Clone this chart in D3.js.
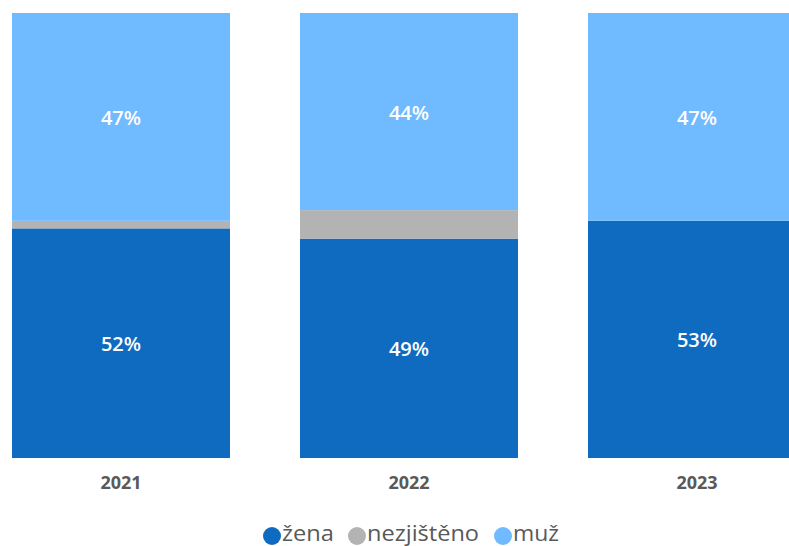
<!DOCTYPE html>
<html><head><meta charset="utf-8">
<script src="https://cdn.jsdelivr.net/npm/d3@7"></script>
<style>body{margin:0;background:#fff}svg{display:block}</style>
</head><body>
<svg id="c" width="789" height="546"></svg>
<script>
const years = ["2021","2022","2023"];
const seriesNames = ["žena","nezjištěno","muž"];
const zena = [51.6, 49.3, 53.3];
const nezjisteno = [1.7, 6.4, 0];
const muz = [46.7, 44.3, 46.7];
const labelsZena = ["52%","49%","53%"];
const labelsMuz = ["47%","44%","47%"];
const colors = ["#0F6BC0","#B3B3B3","#70BAFF"];

const svg = d3.select("#c");
const font = "'Open Sans', 'Noto Sans', sans-serif";
const x = d3.scaleBand().domain(years).range([-23, 841]).paddingInner(0.243).paddingOuter(0.1215);
const y = d3.scaleLinear().domain([0,100]).range([458,13]);

const rows = years.map((yr,i)=>({year:yr, "žena":zena[i], "nezjištěno":nezjisteno[i], "muž":muz[i]}));
const stack = d3.stack().keys(seriesNames)(rows);

stack.forEach((s,si)=>{
  svg.append("g").selectAll("rect").data(s).join("rect")
    .attr("x", d=>x(d.data.year))
    .attr("width", x.bandwidth())
    .attr("y", d=>y(d[1]))
    .attr("height", d=>y(d[0])-y(d[1]))
    .attr("fill", colors[si]);
});

const lab = [labelsZena, null, labelsMuz];
[0,2].forEach(si=>{
  svg.append("g").selectAll("text").data(stack[si]).join("text")
    .attr("x", d=>x(d.data.year)+109)
    .attr("y", d=>(y(d[0])+y(d[1]))/2 + 1)
    .attr("dy","0.35em")
    .attr("text-anchor","middle")
    .attr("fill","#fff")
    .attr("font-family",font)
    .attr("font-size",20)
    .attr("font-weight",600)
    .text((d,i)=>lab[si][i]);
});

const xAxis = d3.axisBottom(x).tickSize(0).tickPadding(0);
const ax = svg.append("g").attr("transform","translate(0,476)").call(xAxis);
ax.select(".domain").remove();
ax.selectAll("text").attr("x", 0)
  .attr("font-family",font).attr("font-size",18).attr("font-weight","bold").attr("fill","#595959");
ax.selectAll(".tick").attr("transform", d=>`translate(${x(d)+109},0)`);

const legendX = [272, 357, 503];
const lg = svg.append("g");
seriesNames.forEach((n,i)=>{
  lg.append("circle").attr("cx",legendX[i]).attr("cy",536).attr("r",9).attr("fill",colors[i]);
  lg.append("text").attr("x",legendX[i]+10).attr("y",533).attr("dy","0.35em")
    .attr("font-family",font).attr("font-size",22).attr("fill","#595959")
    .attr("textLength", [52,112,46][i]).attr("lengthAdjust","spacingAndGlyphs")
    .text(n);
});
</script>
</body></html>
